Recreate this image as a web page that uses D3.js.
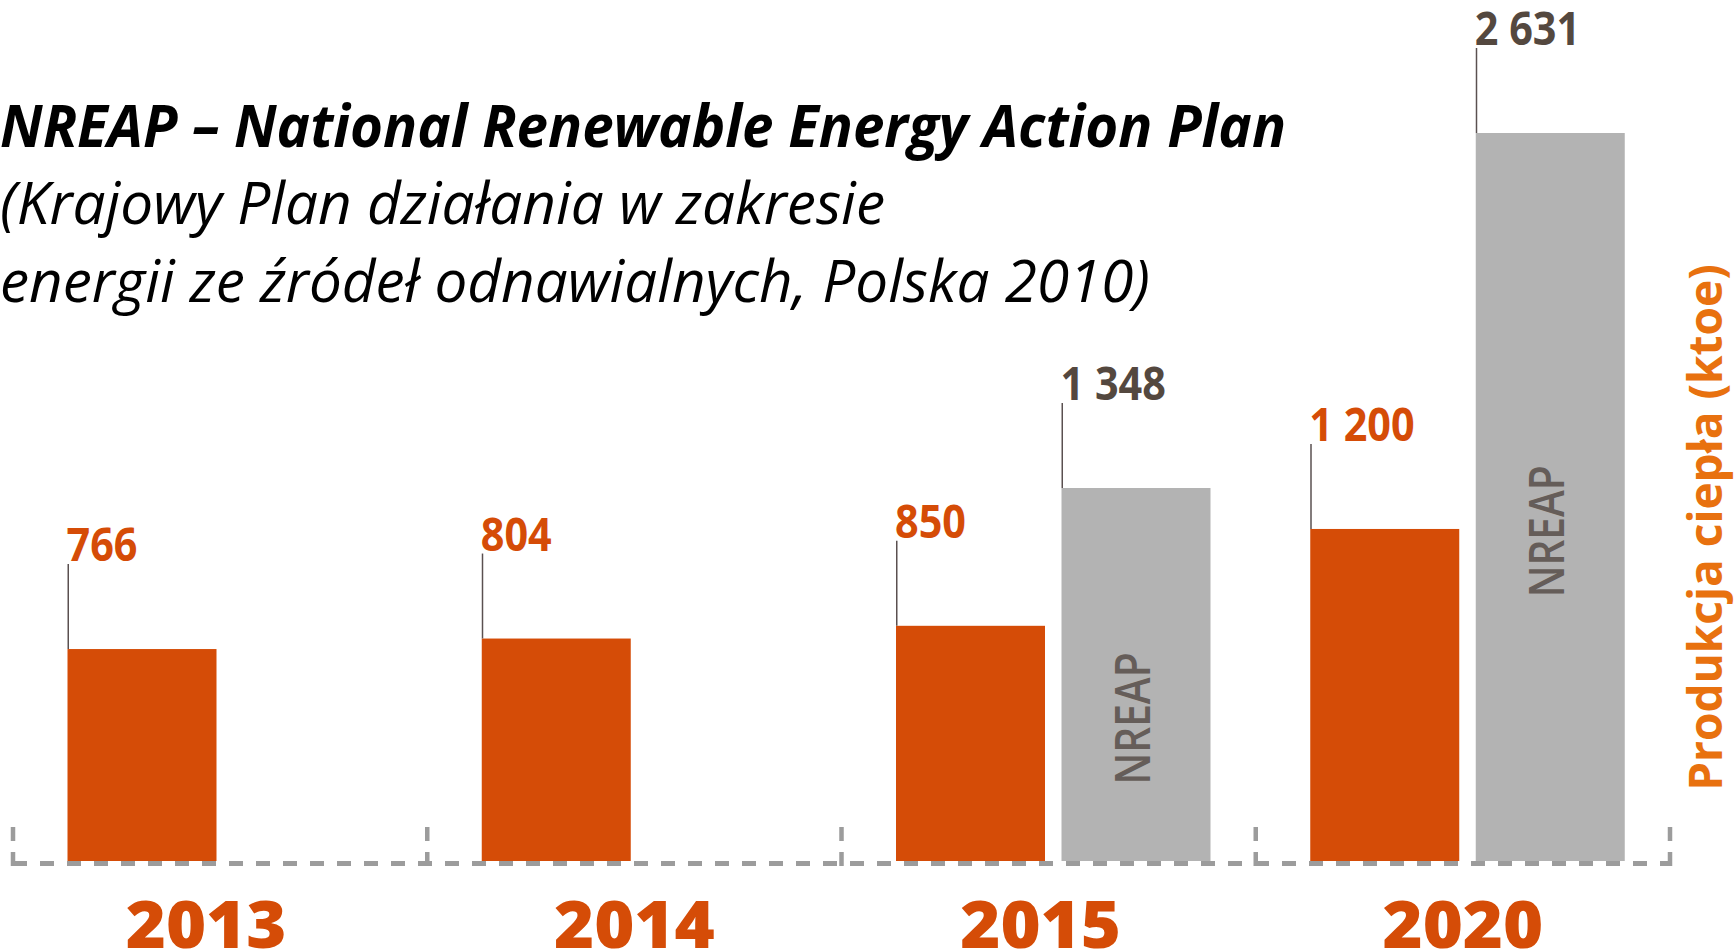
<!DOCTYPE html>
<html>
<head>
<meta charset="utf-8">
<script src="https://cdn.jsdelivr.net/npm/d3@7/dist/d3.min.js"></script>
<style>
  html, body { margin: 0; padding: 0; background: #fff; }
  svg { display: block; }
</style>
</head>
<body>
<svg id="chart" width="1734" height="951"></svg>
<script>
// ---- data ----
const years = ["2013", "2014", "2015", "2020"];
const actualValues = [766, 804, 850, 1200];      // orange bars
const nreapValues = [null, null, 1348, 2631];     // grey NREAP bars
const seriesKeys = ["actual", "nreap"];
const titleLines = [
  "NREAP – National Renewable Energy Action Plan",
  "(Krajowy Plan działania w zakresie",
  "energii ze źródeł odnawialnych, Polska 2010)"
];
const yAxisLabel = "Produkcja ciepła (ktoe)";
const nreapBarLabel = "NREAP";

// ---- styles ----
const ORANGE = "#d54c07";
const GREY = "#b3b3b3";
const DARK = "#54483f";
const AXIS_ORANGE = "#e8710f";

const svg = d3.select("#chart");

const x = d3.scaleBand().domain(years).range([13, 1670]).padding(0);
const xInner = d3.scaleBand().domain(seriesKeys).range([54.5, 369]).paddingInner(0.0997);
const y = d3.scaleLinear().domain([0, 2700]).range([861, 861 - 2700 * 0.2767]);

const fmt = v => d3.format(",")(v).replace(/,/g, " ");

// records
const recs = [];
years.forEach((yr, i) => {
  recs.push({ year: yr, key: "actual", value: actualValues[i] });
  if (nreapValues[i] != null) recs.push({ year: yr, key: "nreap", value: nreapValues[i] });
});

// title
const title = svg.append("g");
const titleLens = [1286, 885, 1150];
const titleY = [147, 224, 302];
titleLines.forEach((t, i) => {
  title.append("text")
    .attr("x", 0).attr("y", titleY[i])
    .attr("font-family", "'Open Sans', sans-serif")
    .attr("font-style", "italic")
    .attr("font-weight", i === 0 ? 700 : 400)
    .attr("font-size", 59)
    .attr("fill", "#000")
    .attr("textLength", titleLens[i])
    .attr("lengthAdjust", "spacingAndGlyphs")
    .text(t);
});

// bars
const bars = svg.append("g");
bars.selectAll("rect").data(recs).join("rect")
  .attr("x", d => x(d.year) + xInner(d.key))
  .attr("width", xInner.bandwidth())
  .attr("y", d => y(d.value))
  .attr("height", d => y(0) - y(d.value))
  .attr("fill", d => d.key === "actual" ? ORANGE : GREY);

// leader lines
svg.append("g").selectAll("line").data(recs).join("line")
  .attr("x1", d => x(d.year) + xInner(d.key) + 0.75)
  .attr("x2", d => x(d.year) + xInner(d.key) + 0.75)
  .attr("y1", d => y(d.value))
  .attr("y2", d => y(d.value) - 85)
  .attr("stroke", "#5a5050")
  .attr("stroke-width", 1.5);

// value labels
svg.append("g").selectAll("text").data(recs).join("text")
  .attr("transform", d => `translate(${x(d.year) + xInner(d.key) - 1},${y(d.value) - 88}) scale(0.88,1)`)
  .attr("font-family", "'Open Sans', sans-serif")
  .attr("font-weight", 700)
  .attr("font-size", 47)
  .attr("fill", d => d.key === "actual" ? ORANGE : DARK)
  .text(d => fmt(d.value));

// NREAP labels inside grey bars
svg.append("g").selectAll("text").data(recs.filter(d => d.key === "nreap")).join("text")
  .attr("transform", d => {
    const h = y(0) - y(d.value);
    const cy = y(0) - (0.527 * h - 54);
    const cx = x(d.year) + xInner(d.key) + xInner.bandwidth() / 2 - 3;
    return `translate(${cx + 17},${cy}) rotate(-90)`;
  })
  .attr("text-anchor", "middle")
  .attr("font-family", "'Open Sans', sans-serif")
  .attr("font-weight", 600)
  .attr("font-size", 48)
  .attr("fill", "#655d59")
  .attr("textLength", 132)
  .attr("lengthAdjust", "spacingAndGlyphs")
  .text(nreapBarLabel);

// dashed baseline
const base = svg.append("g").attr("stroke", "#9c9c9c").attr("stroke-width", 5).attr("fill", "none");
base.append("line")
  .attr("x1", x.range()[0]).attr("x2", x.range()[1])
  .attr("y1", 863.5).attr("y2", 863.5)
  .attr("stroke-dasharray", "14,13");
const bounds = years.map(yr => x(yr)).concat([x.range()[1]]);
base.selectAll("line.tick").data(bounds).join("line").attr("class", "tick")
  .attr("x1", d => d).attr("x2", d => d)
  .attr("y1", 866).attr("y2", 826)
  .attr("stroke-width", 4.5)
  .attr("stroke-dasharray", "14,11");

// year labels (x axis)
const xAxis = d3.axisBottom(x).tickSize(0).tickPadding(0);
const gx = svg.append("g").attr("transform", "translate(0,901)").call(xAxis);
gx.select(".domain").remove();
gx.selectAll(".tick text")
  .attr("dy", "0.71em")
  .attr("font-family", "'Open Sans', sans-serif")
  .attr("font-weight", 800)
  .attr("font-size", 66)
  .attr("fill", ORANGE)
  .attr("transform", (d, i) => `translate(${[-14, 0, -8, 0][i]},0) scale(1.04,1)`);

// y-axis title
svg.append("text")
  .attr("transform", "translate(1722,527.5) rotate(-90)")
  .attr("text-anchor", "middle")
  .attr("font-family", "'Open Sans', sans-serif")
  .attr("font-weight", 700)
  .attr("font-size", 46)
  .attr("fill", AXIS_ORANGE)
  .text(yAxisLabel);
</script>
</body>
</html>
